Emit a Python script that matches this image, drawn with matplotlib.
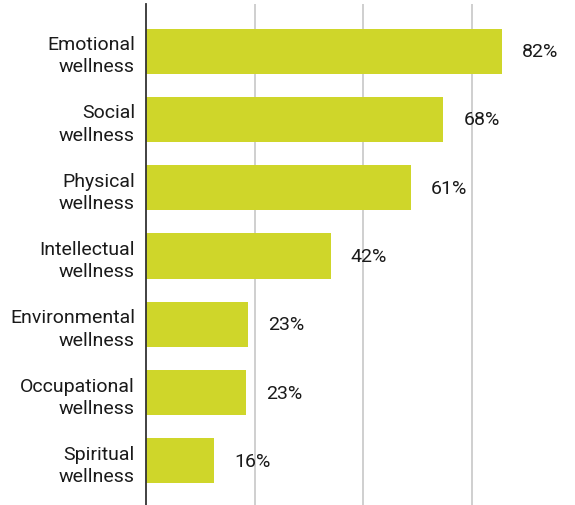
import matplotlib.pyplot as plt

categories = ["Emotional\nwellness", "Social\nwellness", "Physical\nwellness",
              "Intellectual\nwellness", "Environmental\nwellness",
              "Occupational\nwellness", "Spiritual\nwellness"]
values = [82, 68.5, 61, 42.5, 23.5, 23, 15.7]
labels = ["82%", "68%", "61%", "42%", "23%", "23%", "16%"]

plt.rcParams['font.family'] = ['Roboto', 'DejaVu Sans']

fig = plt.figure(figsize=(5.75, 5.06), dpi=100)
ax = fig.add_axes([146 / 575, 0, 1 - 146 / 575, 1 - 5 / 506])

pos = list(range(len(categories)))[::-1]
ax.barh(pos, values, height=0.66, color="#CFD62A", zorder=2)
for p, v, t in zip(pos, values, labels):
    ax.annotate(t, (v, p), xytext=(14.5, 0), textcoords="offset points",
                va="center", ha="left", fontsize=14, color="#1a1a1a")

ax.set_yticks(pos)
ax.set_yticklabels(categories, fontsize=14, color="#1a1a1a", linespacing=1.3)
ax.set_xlim(0, 98.8)
ax.set_ylim(-0.645, 6.69)
ax.set_xticks([25, 50, 75])
ax.xaxis.grid(True, color="#cccccc", linewidth=1.3, zorder=0)
ax.tick_params(axis="y", length=0, pad=8)
ax.tick_params(axis="x", length=0, labelbottom=False)
for s in ["top", "right", "bottom"]:
    ax.spines[s].set_visible(False)
ax.spines["left"].set_color("#333333")
ax.spines["left"].set_linewidth(1.3)

fig.savefig("out.png", dpi=100)
